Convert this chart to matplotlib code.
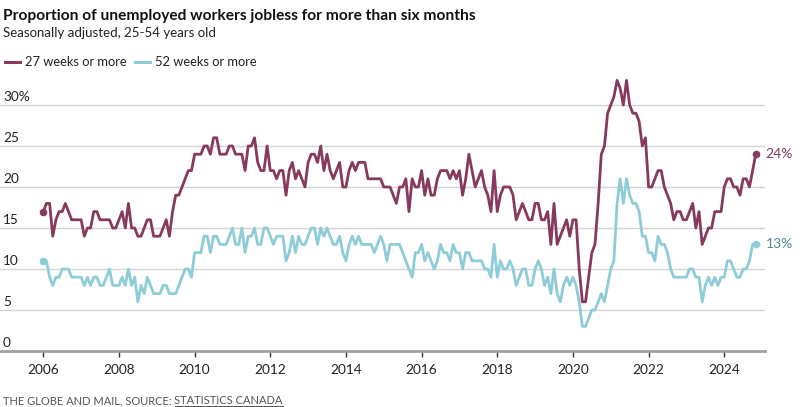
import matplotlib
matplotlib.use("Agg")
import matplotlib.pyplot as plt
import matplotlib.transforms as mtransforms
from matplotlib.lines import Line2D

# Monthly values, Jan 2006 - Nov 2024 (share of unemployed, %)
start_year = 2006
weeks27 = [
    17, 18, 18, 14, 16, 17, 17, 18, 17, 16, 16, 16,  # 2006
    16, 14, 15, 15, 17, 17, 16, 16, 16, 16, 15, 15,  # 2007
    16, 17, 15, 18, 15, 15, 14, 14, 15, 16, 16, 14,  # 2008
    14, 14, 15, 16, 14, 17, 19, 19, 20, 21, 22, 22,  # 2009
    24, 24, 24, 25, 25, 24, 26, 26, 24, 24, 24, 25,  # 2010
    25, 24, 24, 24, 22, 25, 25, 26, 23, 22, 22, 25,  # 2011
    22, 22, 21, 22, 22, 19, 22, 23, 21, 22, 21, 20,  # 2012
    23, 24, 24, 23, 25, 22, 24, 22, 21, 22, 23, 20,  # 2013
    20, 22, 23, 22, 23, 23, 23, 21, 21, 21, 21, 21,  # 2014
    20, 20, 20, 19, 18, 20, 20, 21, 17, 21, 20, 20,  # 2015
    22, 19, 21, 19, 19, 21, 22, 22, 22, 21, 22, 21,  # 2016
    22, 19, 21, 24, 22, 20, 21, 22, 20, 19, 17, 22,  # 2017
    17, 19, 20, 20, 20, 19, 16, 17, 18, 17, 16, 16,  # 2018
    18, 18, 16, 16, 17, 13, 18, 13, 14, 15, 16, 14,  # 2019
    16, 16, 10, 6, 6, 9, 12, 13, 18, 24, 25, 29,     # 2020
    30, 31, 33, 32, 30, 33, 30, 29, 29, 28, 25, 26,  # 2021
    20, 20, 21, 22, 22, 20, 19, 18, 16, 17, 17, 16,  # 2022
    16, 17, 18, 15, 17, 13, 14, 15, 15, 17, 17, 17,  # 2023
    20, 21, 21, 20, 20, 19, 21, 21, 20, 22, 24,      # 2024
]
weeks52 = [
    11, 11, 9, 8, 9, 9, 10, 10, 10, 9, 9, 9,         # 2006
    9, 8, 9, 8, 9, 9, 8, 8, 9, 10, 8, 8,             # 2007
    8, 9, 8, 10, 8, 9, 6, 8, 7, 9, 8, 7,             # 2008
    7, 7, 8, 8, 7, 7, 7, 8, 9, 10, 10, 9,            # 2009
    12, 12, 12, 14, 14, 12, 14, 14, 13, 13, 13, 14,  # 2010
    15, 13, 13, 15, 12, 14, 14, 15, 13, 13, 15, 15,  # 2011
    14, 13, 14, 14, 14, 11, 12, 14, 12, 14, 13, 13,  # 2012
    14, 15, 15, 13, 15, 14, 15, 14, 13, 13, 14, 12,  # 2013
    11, 13, 14, 13, 14, 13, 13, 13, 13, 12, 13, 14,  # 2014
    13, 11, 13, 13, 13, 13, 12, 11, 10, 9, 12, 12,   # 2015
    13, 11, 12, 11, 10, 11, 13, 12, 12, 11, 13, 12,  # 2016
    12, 10, 12, 12, 11, 11, 11, 11, 10, 10, 9, 13,   # 2017
    9, 11, 10, 10, 11, 10, 8, 9, 10, 10, 8, 8,       # 2018
    10, 11, 10, 8, 9, 7, 10, 7, 6, 8, 9, 8,          # 2019
    9, 8, 6, 3, 3, 4, 5, 5, 6, 7, 6, 8,              # 2020
    10, 11, 18, 21, 18, 21, 19, 18, 18, 17, 14, 14,  # 2021
    12, 12, 11, 14, 13, 13, 12, 10, 9, 9, 9, 9,      # 2022
    9, 10, 10, 9, 9, 6, 8, 9, 8, 9, 8, 9,            # 2023
    9, 11, 11, 10, 9, 9, 10, 10, 11, 13, 13,         # 2024
]
series_names = ["27 weeks or more", "52 weeks or more"]
year_ticks = [2006, 2008, 2010, 2012, 2014, 2016, 2018, 2020, 2022, 2024]
y_ticks = [0, 5, 10, 15, 20, 25, 30]

MAROON = "#873a5e"
CYAN = "#8ecdd8"
TEAL_TEXT = "#4e8791"
GRID = "#d4d4d4"
TEXT = "#222222"

plt.rcParams["font.family"] = ["Lato", "DejaVu Sans"]


def main():
    fig = plt.figure(figsize=(8.02, 4.07), dpi=100)
    W, H = 802, 407

    # axes: left edge at 0 px, right at 765 px, baseline at 351 px
    y_top = 33.5
    ax = fig.add_axes([0, (H - 351) / H, 765 / W, y_top * 8.2 / H])

    x = [start_year + i / 12 for i in range(len(weeks27))]
    px_per_year = 37.83
    ax.set_xlim(2006 - 43.3 / px_per_year, 2006 + (765 - 43.3) / px_per_year)
    ax.set_ylim(0, y_top)

    for v in y_ticks[1:]:
        ax.axhline(v, color=GRID, lw=1, zorder=0)

    ax.plot(x, weeks52, color=CYAN, lw=2.0, solid_joinstyle="round", zorder=2)
    ax.plot(x, weeks27, color=MAROON, lw=2.0, solid_joinstyle="round", zorder=3)
    for vals, c in [(weeks52, CYAN), (weeks27, MAROON)]:
        ax.plot([x[0], x[-1]], [vals[0], vals[-1]], "o", color=c, ms=4.5, zorder=4)

    # end labels
    ax.annotate(f"{weeks27[-1]}%", (x[-1], weeks27[-1]), xytext=(7, 0.5),
                textcoords="offset points", va="center", ha="left",
                color=MAROON, fontsize=10, annotation_clip=False)
    ax.annotate(f"{weeks52[-1]}%", (x[-1], weeks52[-1]), xytext=(7, 0.5),
                textcoords="offset points", va="center", ha="left",
                color=TEAL_TEXT, fontsize=10, annotation_clip=False)

    # y labels sit above the gridlines at the left
    trans = mtransforms.blended_transform_factory(ax.transAxes, ax.transData)
    for v in y_ticks:
        label = f"{v}%" if v == 30 else str(v)
        ax.text(3 / 765, v + 0.25, label, transform=trans, ha="left", va="bottom",
                fontsize=9.8, color=TEXT)

    ax.set_xticks(year_ticks)
    ax.set_xticklabels([str(y) for y in year_ticks])
    ax.set_yticks([])
    ax.tick_params(axis="x", length=4, width=1, color="#333333", pad=5,
                   labelsize=9.8, labelcolor=TEXT)
    for side in ["top", "right", "left"]:
        ax.spines[side].set_visible(False)
    ax.spines["bottom"].set_color("#a0a0a0")
    ax.spines["bottom"].set_linewidth(2)
    ax.patch.set_alpha(0)

    # title, subtitle, legend
    fig.text(3 / W, 1 - 16 / H, "Proportion of unemployed workers jobless for more than six months",
             fontsize=11.2, fontweight="bold", color="#111111", va="center")
    fig.text(3 / W, 1 - 33 / H, "Seasonally adjusted, 25-54 years old",
             fontsize=9.5, color=TEXT, va="center")
    legend_y = 1 - 62 / H
    for x0, name, c in [(5, series_names[0], MAROON), (135, series_names[1], CYAN)]:
        fig.add_artist(Line2D([x0 / W, (x0 + 15) / W], [legend_y, legend_y], color=c, lw=2.2))
        fig.text((x0 + 20) / W, legend_y, name, fontsize=9.3, color=TEXT, va="center")

    # footer, with the source underlined
    fy = 1 - 404 / H
    t1 = fig.text(3 / W, fy, "THE GLOBE AND MAIL, SOURCE: ", fontsize=8,
                  color="#555555", va="baseline")
    fig.canvas.draw()
    r = fig.canvas.get_renderer()
    bb = t1.get_window_extent(r)
    t2 = fig.text(bb.x1 / W, fy, "STATISTICS CANADA", fontsize=8,
                  color="#555555", va="baseline")
    bb2 = t2.get_window_extent(r)
    uy = 1 - 405.8 / H
    fig.add_artist(Line2D([bb2.x0 / W, bb2.x1 / W], [uy, uy], color="#555555", lw=0.7))

    fig.savefig("out.png", dpi=100)


if __name__ == "__main__":
    main()
